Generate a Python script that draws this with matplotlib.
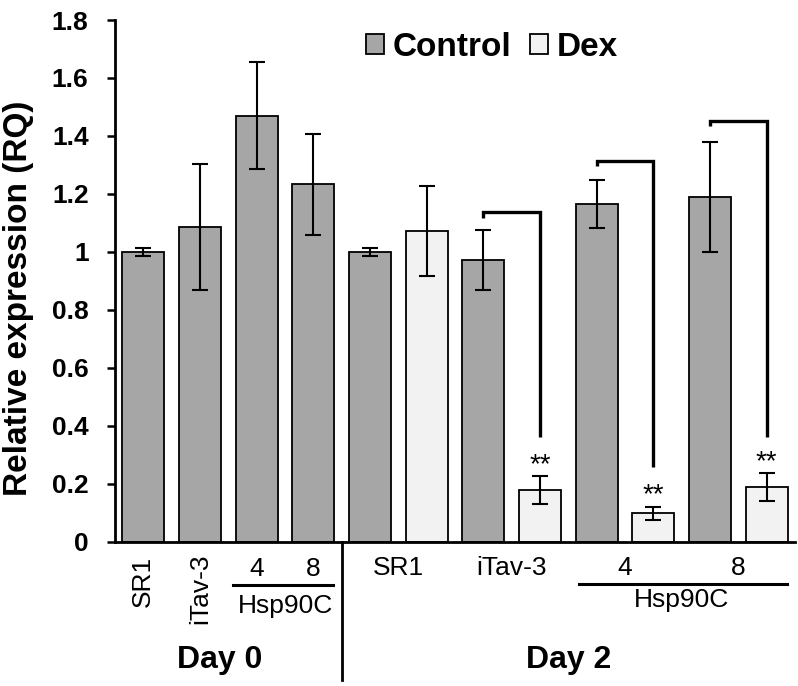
import matplotlib
matplotlib.use("Agg")
import matplotlib.pyplot as plt
from matplotlib.patches import Patch
from matplotlib.transforms import blended_transform_factory
from matplotlib.lines import Line2D

plt.rcParams['font.family'] = ['Liberation Sans', 'DejaVu Sans']

# ---- data ----
bar_groups = ["Control", "Control", "Control", "Control",
              "Control", "Dex", "Control", "Dex", "Control", "Dex", "Control", "Dex"]
bar_values = [1.00, 1.087, 1.47, 1.233, 1.00, 1.072, 0.972, 0.178, 1.165, 0.098, 1.19, 0.188]
bar_errors = [0.015, 0.217, 0.184, 0.175, 0.014, 0.154, 0.102, 0.047, 0.083, 0.023, 0.19, 0.048]
# significance brackets: (control bar index, dex bar index, bracket top, right leg bottom)
brackets = [(6, 7, 1.138, 0.362), (8, 9, 1.315, 0.259), (10, 11, 1.453, 0.362)]
sig_label = "**"
y_ticks = [0, 0.2, 0.4, 0.6, 0.8, 1, 1.2, 1.4, 1.6, 1.8]
y_tick_labels = ["0", "0.2", "0.4", "0.6", "0.8", "1", "1.2", "1.4", "1.6", "1.8"]
day0_labels = ["SR1", "iTav-3"]
day0_nums = ["4", "8"]
day2_labels = ["SR1", "iTav-3"]
day2_nums = ["4", "8"]
group_name = "Hsp90C"
day_labels = ["Day 0", "Day 2"]

colors = {"Control": "#a6a6a6", "Dex": "#f2f2f2"}

W, H = 798, 686
fig = plt.figure(figsize=(W / 100, H / 100), dpi=100)
ax = fig.add_axes([115 / W, 1 - 541.7 / H, (795 - 115) / W, (541.7 - 20) / H])

x = list(range(len(bar_values)))
ax.bar(x, bar_values, width=0.74, color=[colors[g] for g in bar_groups],
       edgecolor="black", linewidth=1.3, zorder=2)
ax.errorbar(x, bar_values, yerr=bar_errors, fmt="none", ecolor="black",
            elinewidth=1.5, capsize=5.5, capthick=1.5, zorder=3)

for c, d, top, bot in brackets:
    ax.plot([c, c, d, d], [top - 0.02, top, top, bot], color="black",
            lw=2.4, solid_capstyle="butt", solid_joinstyle="miter", zorder=3)
for i, g in enumerate(bar_groups):
    if g == "Dex" and i >= 7:
        ax.text(i, bar_values[i] + bar_errors[i] - 0.005, sig_label,
                ha="center", va="bottom", fontsize=20)

ax.set_xlim(-0.5, 11.5)
ax.set_ylim(0, 1.8)
ax.set_yticks(y_ticks)
ax.set_yticklabels(y_tick_labels, fontsize=19, fontweight="bold")
ax.tick_params(axis="y", length=6, width=1.8, direction="out", pad=13)
ax.tick_params(axis="x", length=0)
ax.set_xticks([])
for s in ["top", "right"]:
    ax.spines[s].set_visible(False)
for s in ["left", "bottom"]:
    ax.spines[s].set_linewidth(2)

def fy(py):
    return 1 - py / H

fig.text(19 / W, fy(298), "Relative expression (RQ)", rotation=90, ha="center",
         va="center", fontsize=24, fontweight="bold")

# legend
handles = [Patch(facecolor=colors["Control"], edgecolor="black", linewidth=1.3),
           Patch(facecolor=colors["Dex"], edgecolor="black", linewidth=1.3)]
leg = ax.legend(handles, ["Control", "Dex"], ncol=2, frameon=False, loc="center",
                bbox_to_anchor=(0.554, 0.948), prop={"size": 24, "weight": "bold"},
                handlelength=0.55, handleheight=0.55, handletextpad=0.25,
                columnspacing=0.55, borderpad=0)

# category labels below axis
tr = blended_transform_factory(ax.transData, fig.transFigure)

fs = 19
ax.text(0, fy(556), day0_labels[0], rotation=90, ha="center", va="top", fontsize=fs, transform=tr)
ax.text(1, fy(554), day0_labels[1], rotation=90, ha="center", va="top", fontsize=fs, transform=tr)
ax.text(2, fy(569), day0_nums[0], ha="center", va="center", fontsize=fs, transform=tr)
ax.text(3, fy(569), day0_nums[1], ha="center", va="center", fontsize=fs, transform=tr)
ax.add_line(Line2D([1.58, 3.35], [fy(585), fy(585)], color="black", lw=2.2,
                   transform=tr, clip_on=False))
ax.text(2.5, fy(606), group_name, ha="center", va="center", fontsize=fs, transform=tr)
ax.text(1.35, fy(660), day_labels[0], ha="center", va="center", fontsize=23,
        fontweight="bold", transform=tr)

ax.text(4.5, fy(568), day2_labels[0], ha="center", va="center", fontsize=fs, transform=tr)
ax.text(6.5, fy(568), day2_labels[1], ha="center", va="center", fontsize=fs, transform=tr)
ax.text(8.5, fy(568), day2_nums[0], ha="center", va="center", fontsize=fs, transform=tr)
ax.text(10.5, fy(568), day2_nums[1], ha="center", va="center", fontsize=fs, transform=tr)
ax.add_line(Line2D([7.69, 11.35], [fy(584), fy(584)], color="black", lw=2.2,
                   transform=tr, clip_on=False))
ax.text(9.5, fy(600), group_name, ha="center", va="center", fontsize=fs, transform=tr)
ax.text(7.5, fy(660), day_labels[1], ha="center", va="center", fontsize=23,
        fontweight="bold", transform=tr)

# divider between days
ax.add_line(Line2D([3.5, 3.5], [fy(541.7), fy(680)], color="black", lw=2,
                   transform=tr, clip_on=False))

fig.savefig("out.png", dpi=100)
